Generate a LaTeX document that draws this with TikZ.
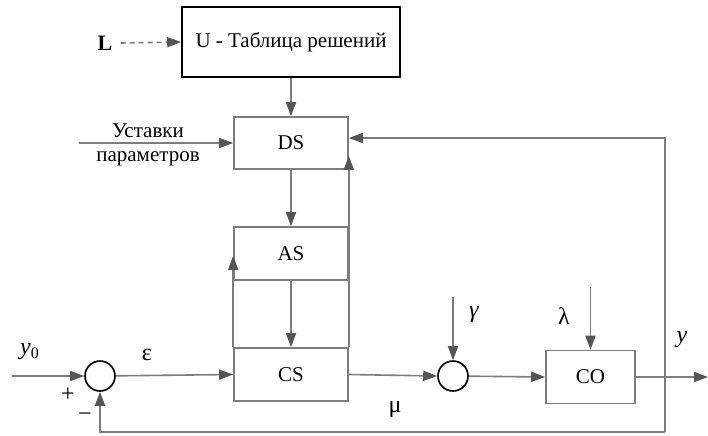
\documentclass[tikz,border=0pt]{standalone}
\usepackage{fontspec}
\setmainfont{Liberation Serif}
\usetikzlibrary{arrows.meta}

\definecolor{linegray}{RGB}{125,125,125}
\definecolor{tipgray}{RGB}{85,85,85}

\begin{document}
\begin{tikzpicture}
[
	x=0.5pt, y=-0.5pt,
	block/.style={rectangle,draw=linegray,line width=0.8pt,minimum width=57pt,minimum height=26.5pt,inner sep=0pt,font=\fontsize{10.5}{12}\selectfont},
	sumpt/.style={circle,draw=black,line width=0.8pt,inner sep=0pt,minimum size=15pt},
	sig/.style={draw=linegray,line width=0.8pt,-{Triangle[length=7pt,width=5pt,color=tipgray]}},
	lbl/.style={inner sep=1pt,font=\fontsize{12}{14}\selectfont}
]

	\useasboundingbox (0,0) rectangle (708,435);

	% blocks
	\node[block,draw=black,line width=0.8pt,minimum width=109pt,minimum height=35pt] (U) at (291,42) {U - Таблица решений};
	\node[block,minimum height=26pt] (DS) at (291,143) {DS};
	\node[block] (AS) at (291,253.5) {AS};
	\node[block] (CS) at (291,374.5) {CS};
	\node[block,minimum width=44.5pt] (CO) at (590.5,377) {CO};

	\node[sumpt] (sum1) at (100,376) {};
	\node[sumpt] (sum2) at (453,376) {};

	% labels
	\node[lbl,font=\fontsize{11}{12}\selectfont\bfseries] (L) at (105,43) {L};
	\node[lbl,align=center,font=\fontsize{10.5}{12}\selectfont] (set) at (148,145) {Уставки\\параметров};
	\node[lbl] (y0) at (30,352) {\textit{y}\textsubscript{0}};
	\node[lbl] (eps) at (147,355) {ε};
	\node[lbl] (plus) at (68,395) {+};
	\node[lbl] (minus) at (85,417) {−};
	\node[lbl] (mu) at (395,410) {μ};
	\node[lbl] (gam) at (474,315) {\textit{γ}};
	\node[lbl] (lam) at (564,316) {λ};
	\node[lbl] (yout) at (682,340) {\textit{y}};

	% free ends
	\coordinate (in) at (12,376);
	\coordinate (setin) at (79,143);
	\coordinate (gamin) at (453,297);
	\coordinate (lamin) at (590.5,287);
	\coordinate (out) at (708,377);
	\coordinate (fb) at (665,432);

	% connectors
	\draw[sig,dash pattern=on 2.5pt off 2pt] (L.east) ++(6,0) -- (U.west);
	\draw[sig] (U) -- (DS);
	\draw[sig] (setin) -- (DS.west);
	\draw[sig] (DS) -- (AS);
	\draw[sig] (AS) -- (CS);
	\draw[sig] (CS.north west) -- ([yshift=12.5pt]AS.south west);
	\draw[sig] (CS.north east) -- ([yshift=7pt]DS.south east);
	\draw[sig] (in) -- (sum1.west);
	\draw[sig] (sum1) -- (CS.west);
	\draw[sig] (CS.east) -- (sum2.west);
	\draw[sig] (gamin) -- (sum2.north);
	\draw[sig] (sum2) -- (CO.west);
	\draw[sig] (lamin) -- (CO.north);
	\draw[sig] (CO.east) -- (out);

	% feedback
	\draw[sig] (fb) -| (sum1.south);
	\draw[sig] (fb) |- ([yshift=2.5pt]DS.east);

\end{tikzpicture}
\end{document}
